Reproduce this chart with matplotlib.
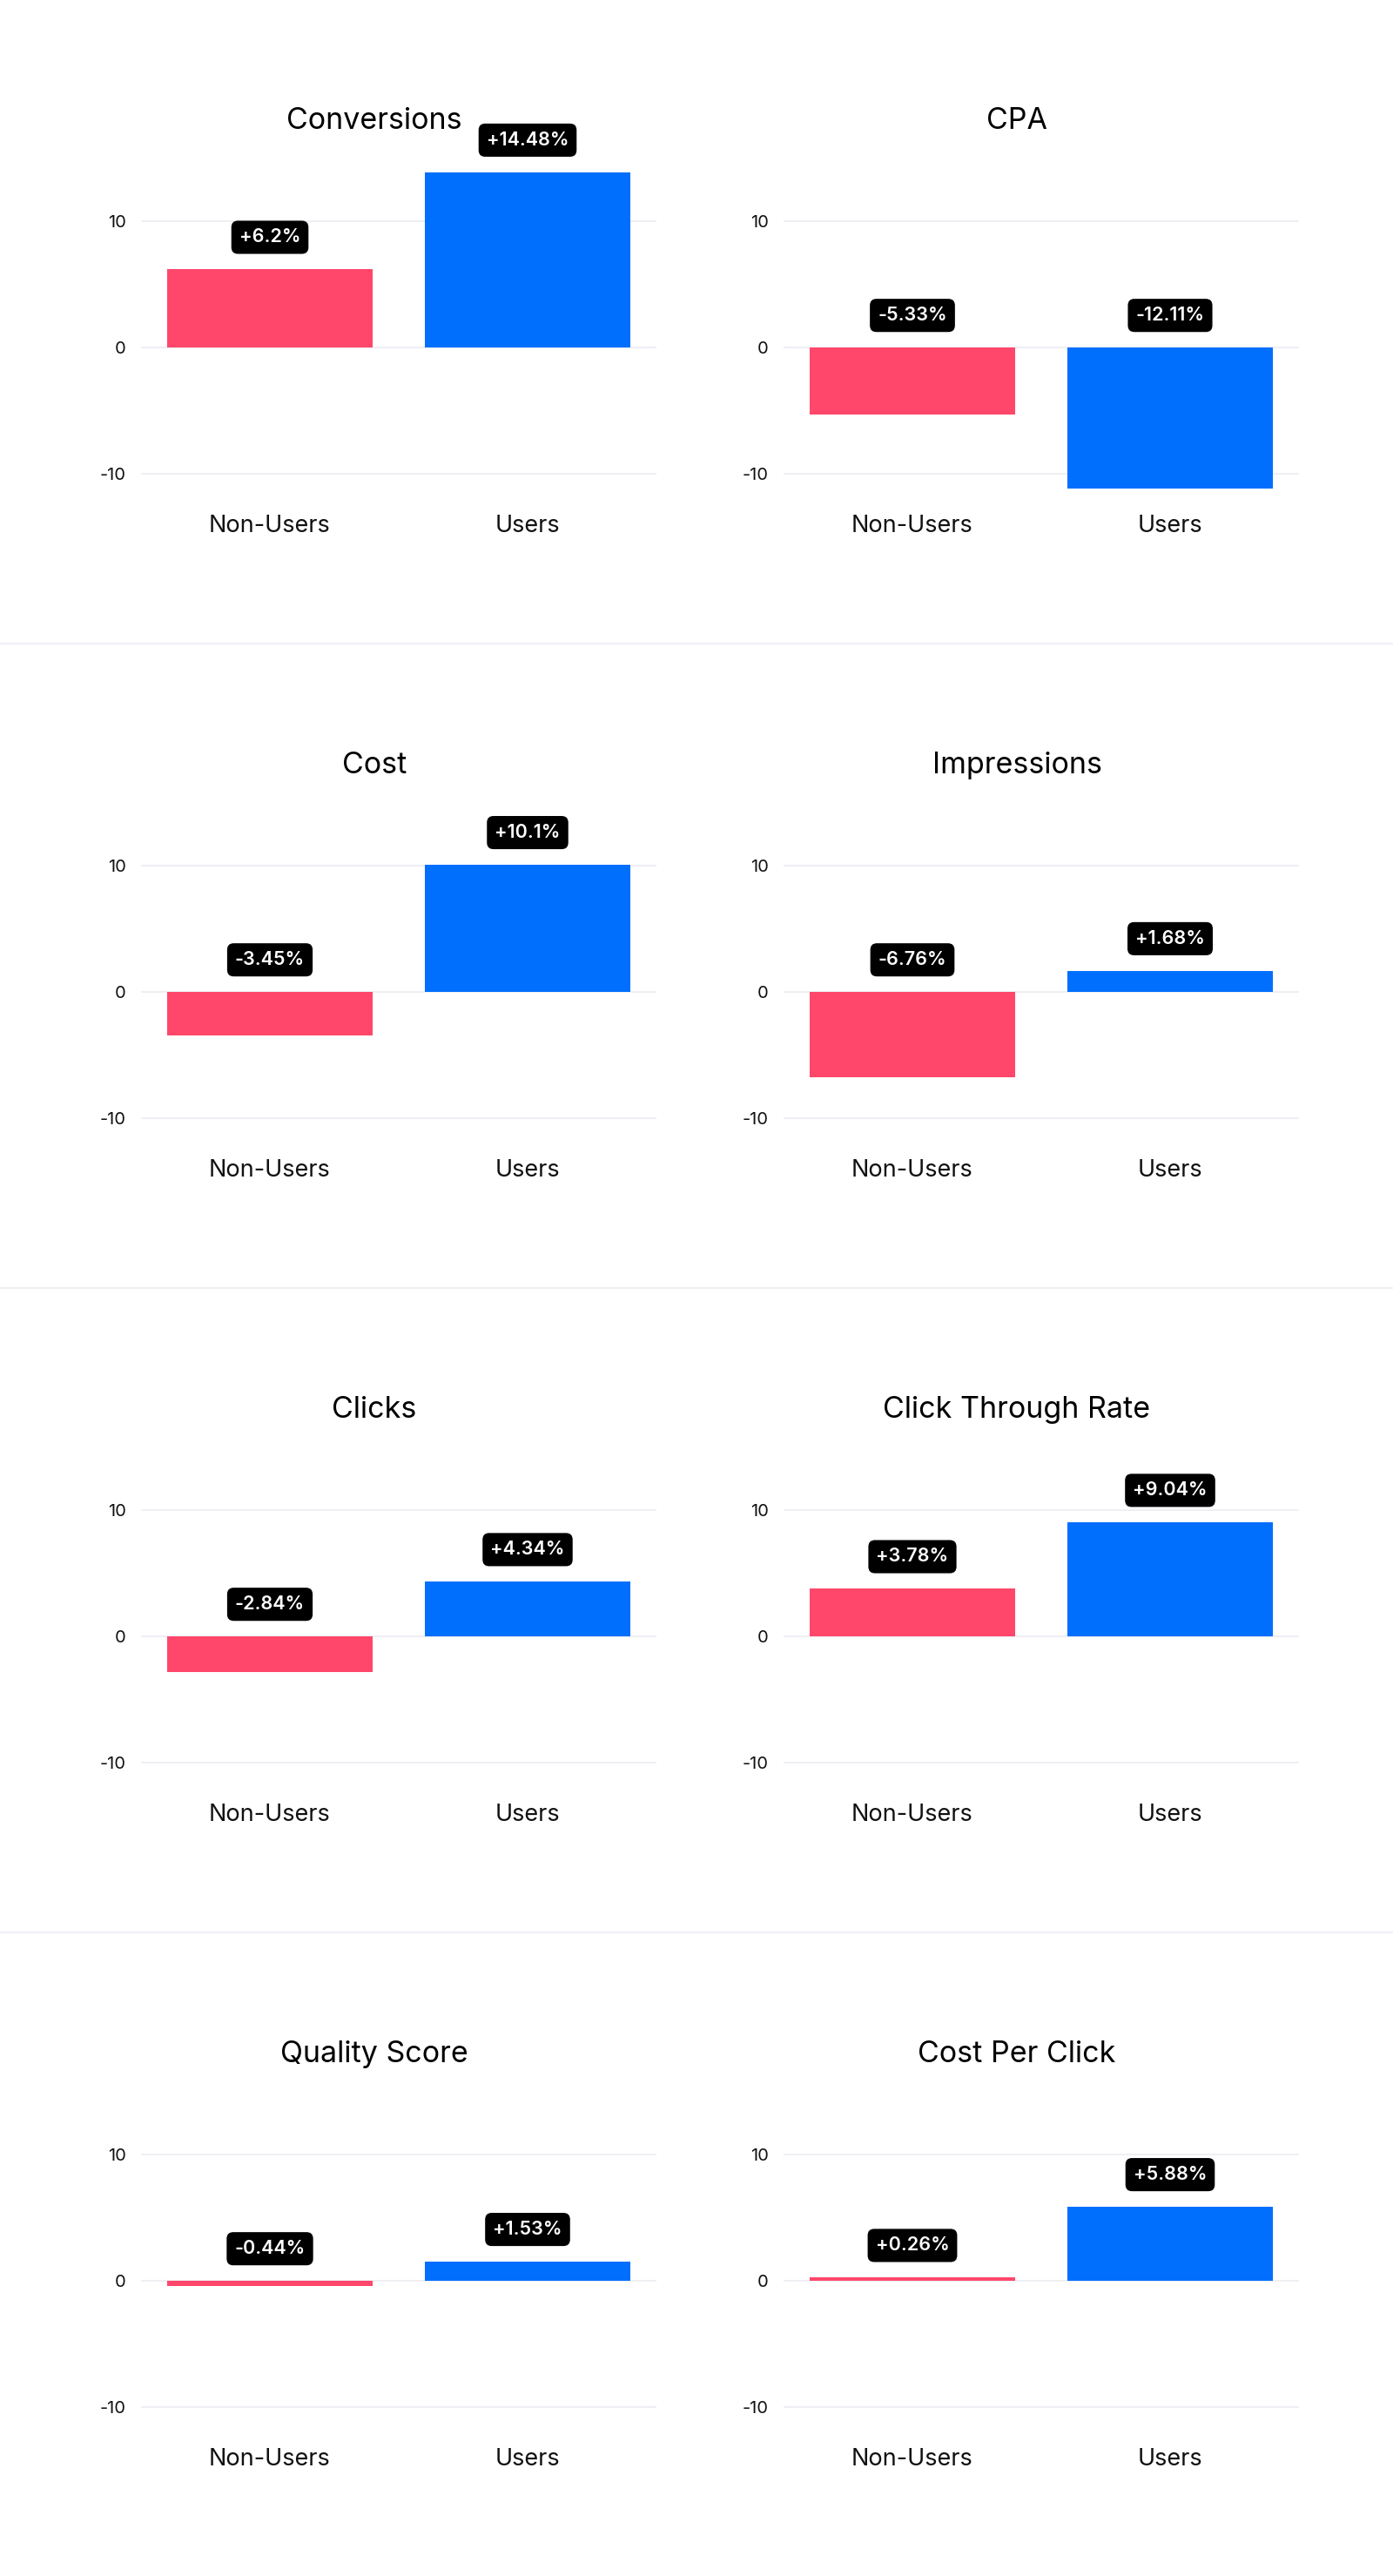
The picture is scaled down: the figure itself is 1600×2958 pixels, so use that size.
import numpy as np
import matplotlib
matplotlib.use("Agg")
import matplotlib.pyplot as plt
from matplotlib.lines import Line2D

plt.rcParams['font.family'] = ['Inter', 'DejaVu Sans']
plt.rcParams['axes.unicode_minus'] = False

# data
metrics = ['Conversions', 'CPA', 'Cost', 'Impressions',
           'Clicks', 'Click Through Rate', 'Quality Score', 'Cost Per Click']
groups = ['Non-Users', 'Users']
non_users = [6.2, -5.33, -3.45, -6.76, -2.84, 3.78, -0.44, 0.26]
users = [14.48, -12.11, 10.1, 1.68, 4.34, 9.04, 1.53, 5.88]
yticks = [-10, 0, 10]

red = '#ff476b'
blue = '#006ffe'
grid_col = '#efeff4'

W, H = 1600, 2958
fig = plt.figure(figsize=(W / 100, H / 100), dpi=100)
fig.patch.set_facecolor('white')

ymin, ymax = -11.17, 13.91
ppu = 14.47          # pixels per unit
row_h = 740
zero0 = 399
ax_w = 592
lefts = [162, 900]

for k, name in enumerate(metrics):
    r, c = divmod(k, 2)
    zero = zero0 + row_h * r
    top = zero - ymax * ppu
    h = (ymax - ymin) * ppu
    left = lefts[c]
    ax = fig.add_axes([left / W, 1 - (top + h) / H, ax_w / W, h / H])
    vals = [non_users[k], users[k]]
    x = np.arange(len(groups))
    ax.bar(x, vals, width=0.8, color=[red, blue], zorder=3)
    ax.set_xlim(-0.5, 1.5)
    ax.set_ylim(ymin, ymax)
    ax.set_yticks(yticks)
    ax.set_xticks(x)
    ax.set_xticklabels(groups, fontsize=19.5, color='#111111')
    ax.tick_params(axis='x', length=0, pad=22)
    ax.tick_params(axis='y', length=0, pad=12.5, labelsize=14.5, labelcolor='#111111')
    ax.grid(axis='y', color=grid_col, linewidth=1.5, zorder=0)
    for s in ax.spines.values():
        s.set_visible(False)
    for i, v in enumerate(vals):
        anchor = min(max(v, 0), ymax)
        ax.annotate(f"{v:+g}%", xy=(i, anchor), xytext=(0, 26.5),
                    textcoords='offset points', ha='center', va='center',
                    fontsize=15.5, fontweight='semibold', color='white',
                    bbox=dict(boxstyle='round,pad=0.42,rounding_size=0.35',
                              fc='#000000', ec='none'),
                    annotation_clip=False, zorder=5)
    # title sits a bit left of axes centre
    tx = left + ax_w / 2 - 28
    fig.text(tx / W, 1 - (148 + row_h * r) / H, name, ha='center', va='baseline',
             fontsize=24.5, color='#000000')

# row separators
for r in range(1, 4):
    yy = 1 - (zero0 + 340 + row_h * (r - 1)) / H
    fig.add_artist(Line2D([0, 1], [yy, yy], transform=fig.transFigure,
                          color=grid_col, linewidth=1.5))

fig.savefig('out.png', dpi=100, facecolor='white')
